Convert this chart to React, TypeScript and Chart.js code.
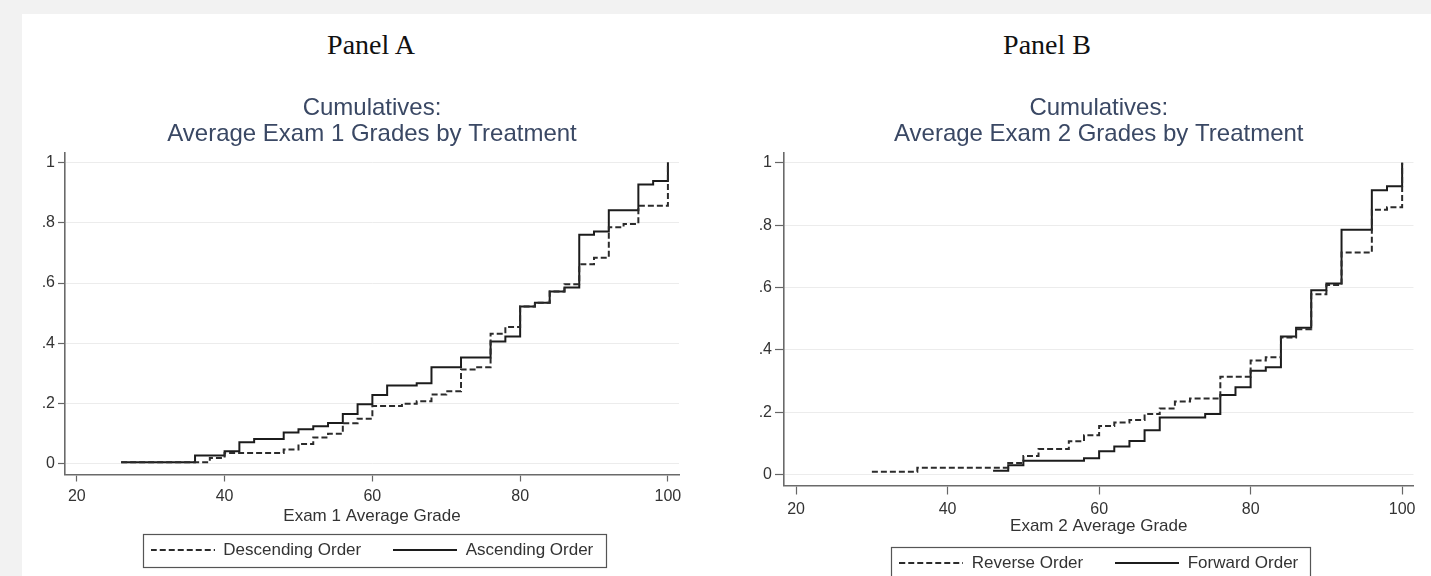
import React, { useEffect, useRef } from "react";
import { Chart, registerables } from "chart.js";

Chart.register(...registerables);

// ---------- data ----------
const xTicks = [20, 40, 60, 80, 100];
const yTicks = [0, 0.2, 0.4, 0.6, 0.8, 1];
const yTickLabels = ["0", ".2", ".4", ".6", ".8", "1"];

const panelLabels = ["Panel A", "Panel B"];
const titleA = ["Cumulatives:", "Average Exam 1 Grades by Treatment"];
const titleB = ["Cumulatives:", "Average Exam 2 Grades by Treatment"];
const xTitleA = "Exam 1 Average Grade";
const xTitleB = "Exam 2 Average Grade";
const namesA = ["Descending Order", "Ascending Order"];
const namesB = ["Reverse Order", "Forward Order"];

// Panel A – Descending (dashed)
const descX = [26, 38, 40, 48, 50, 52, 54, 56, 58, 60, 64, 66, 68, 70, 72, 74, 76, 78, 80, 82, 84, 86, 88, 90, 92, 94, 96, 100];
const descY = [0.006, 0.02, 0.036, 0.048, 0.066, 0.088, 0.1, 0.135, 0.15, 0.192, 0.2, 0.208, 0.23, 0.241, 0.313, 0.321, 0.432, 0.454, 0.522, 0.535, 0.572, 0.596, 0.662, 0.684, 0.785, 0.796, 0.856, 1.0];
// Panel A – Ascending (solid)
const ascX = [26, 36, 40, 42, 44, 48, 50, 52, 54, 56, 58, 60, 62, 66, 68, 72, 76, 78, 80, 82, 84, 86, 88, 90, 92, 96, 98, 100];
const ascY = [0.006, 0.028, 0.042, 0.072, 0.083, 0.104, 0.115, 0.125, 0.136, 0.166, 0.198, 0.229, 0.26, 0.268, 0.321, 0.353, 0.406, 0.423, 0.522, 0.535, 0.572, 0.585, 0.76, 0.771, 0.841, 0.927, 0.938, 1.0];

// Panel B – Reverse (dashed)
const revX = [30, 36, 48, 50, 52, 56, 58, 60, 62, 64, 66, 68, 70, 72, 76, 80, 82, 84, 86, 88, 90, 92, 96, 98, 100];
const revY = [0.009, 0.022, 0.037, 0.06, 0.082, 0.107, 0.126, 0.156, 0.167, 0.175, 0.194, 0.212, 0.234, 0.244, 0.314, 0.366, 0.376, 0.44, 0.466, 0.578, 0.608, 0.712, 0.849, 0.857, 1.0];
// Panel B – Forward (solid)
const fwdX = [46, 48, 50, 58, 60, 62, 64, 66, 68, 74, 76, 78, 80, 82, 84, 86, 88, 90, 92, 96, 98, 100];
const fwdY = [0.012, 0.03, 0.044, 0.052, 0.075, 0.09, 0.108, 0.142, 0.183, 0.194, 0.255, 0.28, 0.333, 0.344, 0.443, 0.471, 0.591, 0.613, 0.785, 0.912, 0.925, 1.0];

// ---------- styling ----------
const FONT = '"Liberation Sans", Arial, Helvetica, sans-serif';
Chart.defaults.font.family = FONT;

const LINE_W = 2;
const DASH = [6, 3];
const SAMPLE_W = 64;

function makeSample(dash: number[], color: string): HTMLCanvasElement {
  const c = document.createElement("canvas");
  c.width = SAMPLE_W;
  c.height = 4;
  const ctx = c.getContext("2d") as CanvasRenderingContext2D;
  ctx.strokeStyle = color;
  ctx.lineWidth = LINE_W;
  ctx.setLineDash(dash);
  ctx.beginPath();
  ctx.moveTo(0, 2);
  ctx.lineTo(SAMPLE_W, 2);
  ctx.stroke();
  return c;
}

const legendBoxPlugin = {
  id: "legendBox",
  afterDraw(chart: any) {
    const lg = chart.legend;
    if (!lg || !lg.legendHitBoxes || !lg.legendHitBoxes.length) return;
    const hb = lg.legendHitBoxes;
    const left = Math.min(...hb.map((h: any) => h.left)) - 8;
    const right = Math.max(...hb.map((h: any) => h.left + h.width)) + 12;
    const top = Math.min(...hb.map((h: any) => h.top)) - 8;
    const bottom = Math.max(...hb.map((h: any) => h.top + h.height)) + 8;
    const ctx = chart.ctx;
    ctx.save();
    ctx.strokeStyle = "#555";
    ctx.lineWidth = 1.2;
    ctx.setLineDash([]);
    ctx.strokeRect(Math.round(left) + 0.5, Math.round(top) + 0.5, Math.round(right - left), Math.round(bottom - top));
    ctx.restore();
  },
};

type PanelCfg = {
  title: string[];
  xTitle: string;
  names: string[];
  dashX: number[];
  dashY: number[];
  solidX: number[];
  solidY: number[];
  padRight: number;
  padBottom: number;
  yWidth: number;
  xHeight: number;
  xTitlePadBottom: number;
  tickLen: number;
};

function makeConfig(p: PanelCfg): any {
  const dashColor = "#2b2b2b";
  const solidColor = "#1c1c1c";
  const samples = [makeSample(DASH, dashColor), makeSample([], solidColor)];
  return {
    type: "line",
    data: {
      datasets: [
        {
          label: p.names[0],
          data: p.dashX.map((x, i) => ({ x, y: p.dashY[i] })),
          borderColor: dashColor,
          borderWidth: LINE_W,
          borderDash: DASH,
          stepped: true,
          pointRadius: 0,
          fill: false,
        },
        {
          label: p.names[1],
          data: p.solidX.map((x, i) => ({ x, y: p.solidY[i] })),
          borderColor: solidColor,
          borderWidth: LINE_W,
          stepped: true,
          pointRadius: 0,
          fill: false,
        },
      ],
    },
    options: {
      animation: false,
      responsive: false,
      devicePixelRatio: 1,
      events: [],
      layout: { padding: { left: 20, right: p.padRight, top: 0, bottom: p.padBottom } },
      plugins: {
        title: {
          display: true,
          text: p.title,
          fullSize: false,
          color: "#3a4864",
          font: { size: 24, weight: "normal", lineHeight: 1.06 },
          padding: { top: 96, bottom: 5.6 },
        },
        legend: {
          display: true,
          position: "bottom",
          fullSize: false,
          labels: {
            usePointStyle: true,
            pointStyleWidth: SAMPLE_W,
            padding: 32,
            color: "#333",
            font: { size: 17 },
            generateLabels: (chart: any) =>
              Chart.defaults.plugins.legend.labels
                .generateLabels(chart)
                .map((it: any, i: number) => ({ ...it, pointStyle: samples[i] })),
          },
        },
        tooltip: { enabled: false },
      },
      scales: {
        x: {
          type: "linear",
          min: 18.4,
          max: 101.5,
          afterBuildTicks: (s: any) => {
            s.ticks = xTicks.map((v) => ({ value: v }));
          },
          afterFit: (s: any) => {
            s.height = p.xHeight;
          },
          ticks: { color: "#333", font: { size: 16 }, padding: 5, maxRotation: 0, autoSkip: false },
          grid: { drawOnChartArea: false, tickLength: p.tickLen, tickColor: "#666", tickWidth: 1.2 },
          border: { display: true, color: "#6a6a6a", width: 1.6 },
          title: {
            display: true,
            text: p.xTitle,
            color: "#333",
            font: { size: 17 },
            padding: { top: 0, bottom: p.xTitlePadBottom },
          },
        },
        y: {
          type: "linear",
          min: -0.035,
          max: 1.033,
          afterBuildTicks: (s: any) => {
            s.ticks = yTicks.map((v) => ({ value: v }));
          },
          afterFit: (s: any) => {
            s.width = p.yWidth;
          },
          ticks: {
            color: "#333",
            font: { size: 16 },
            padding: 3,
            autoSkip: false,
            callback: (_v: any, i: number) => yTickLabels[i],
          },
          grid: { color: "#ececec", lineWidth: 1, tickLength: p.tickLen, tickColor: "#666", tickWidth: 1.2 },
          border: { display: true, color: "#6a6a6a", width: 1.6 },
        },
      },
    },
    plugins: [legendBoxPlugin],
  };
}

const CANVAS_H = 700;

export default function App() {
  const refA = useRef<HTMLCanvasElement | null>(null);
  const refB = useRef<HTMLCanvasElement | null>(null);

  useEffect(() => {
    const chartA = new Chart(
      refA.current as HTMLCanvasElement,
      makeConfig({
        title: titleA,
        xTitle: xTitleA,
        names: namesA,
        dashX: descX,
        dashY: descY,
        solidX: ascX,
        solidY: ascY,
        padRight: 36,
        padBottom: CANVAS_H - 474.5 - 35 - 59,
        yWidth: 45,
        xHeight: 35,
        xTitlePadBottom: -17.2,
        tickLen: 7,
      })
    );
    const chartB = new Chart(
      refB.current as HTMLCanvasElement,
      makeConfig({
        title: titleB,
        xTitle: xTitleB,
        names: namesB,
        dashX: revX,
        dashY: revY,
        solidX: fwdX,
        solidY: fwdY,
        padRight: 17.5,
        padBottom: CANVAS_H - 485.5 - 37 - 59,
        yWidth: 44,
        xHeight: 37,
        xTitlePadBottom: -13.7,
        tickLen: 9,
      })
    );
    return () => {
      chartA.destroy();
      chartB.destroy();
    };
  }, []);

  const panelStyle: React.CSSProperties = {
    position: "absolute",
    top: 31,
    fontFamily: '"Liberation Serif", "Times New Roman", serif',
    fontSize: 28,
    lineHeight: "28px",
    color: "#111",
    whiteSpace: "nowrap",
    transform: "translateX(-50%)",
  };

  return (
    <div
      style={{
        position: "absolute",
        left: 0,
        top: 0,
        width: 1431,
        height: 576,
        overflow: "hidden",
        background: "#f2f2f2",
      }}
    >
      <div style={{ position: "absolute", left: 22, top: 14, right: 0, bottom: 0, background: "#ffffff" }} />
      <div style={{ ...panelStyle, left: 371 }}>{panelLabels[0]}</div>
      <div style={{ ...panelStyle, left: 1047 }}>{panelLabels[1]}</div>
      <canvas
        ref={refA}
        width={715}
        height={CANVAS_H}
        style={{ position: "absolute", left: 0, top: 0, width: 715, height: CANVAS_H }}
      />
      <canvas
        ref={refB}
        width={711}
        height={CANVAS_H}
        style={{ position: "absolute", left: 720, top: 0, width: 711, height: CANVAS_H }}
      />
    </div>
  );
}
